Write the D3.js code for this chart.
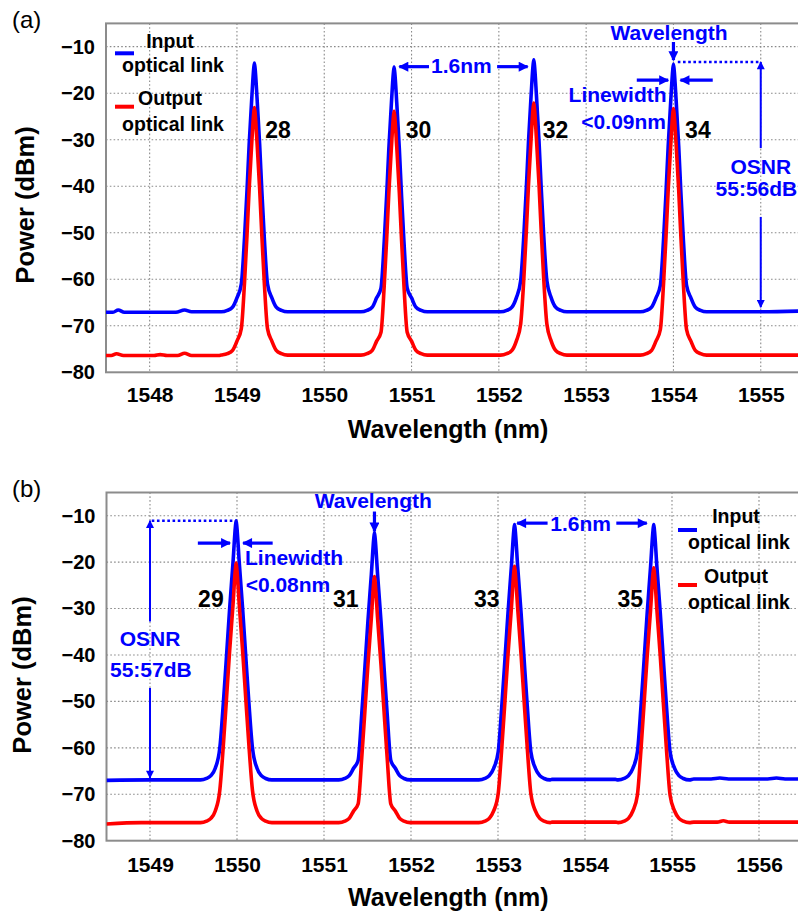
<!DOCTYPE html>
<html>
<head>
<meta charset="utf-8">
<script src="https://cdn.jsdelivr.net/npm/d3@7"></script>
<style>
    body { margin: 0; background: #fff; }
    svg { display: block; }
</style>
</head>
<body>
<svg id="chart" width="798" height="914"></svg>
<script>
(function () {
    'use strict';

    var FONT = '"Liberation Sans", Arial, Helvetica, sans-serif';
    var BLUE = "#0000ff", RED = "#ff0000";

    //  ticks shared by both panels
    var yTicks = [-80, -70, -60, -50, -40, -30, -20, -10];
    var xTicksA = [1548, 1549, 1550, 1551, 1552, 1553, 1554, 1555];
    var xTicksB = [1549, 1550, 1551, 1552, 1553, 1554, 1555, 1556];

    //  panel (a): channels 28..34
    var channelsA = ["28", "30", "32", "34"];
    var centersA = [1549.2, 1550.8, 1552.4, 1554.0];
    var inputPeaksA = [-13.5, -14.4, -12.8, -13.8];
    var outputPeaksA = [-23.1, -23.9, -22.1, -23.3];
    var labelPosA = [1549.47, 1551.08, 1552.65, 1554.28];
    var inputFloorA = [[1547.5, -67.1], [1547.58, -67.1], [1547.64, -66.6], [1547.71, -67.1], [1548.30, -67.1],
        [1548.40, -66.6], [1548.48, -67.0], [1548.79, -67.0], [1549.61, -67.0], [1550.39, -67.0], [1551.21, -67.0],
        [1551.99, -67.0], [1552.81, -67.0], [1553.59, -67.0], [1554.41, -67.0], [1555.0, -67.0], [1555.5, -66.8]];
    var outputFloorA = [[1547.5, -76.4], [1547.56, -76.4], [1547.62, -76.0], [1547.70, -76.4], [1548.05, -76.4],
        [1548.12, -76.2], [1548.2, -76.4], [1548.32, -76.4], [1548.40, -75.9], [1548.48, -76.4], [1548.79, -76.4],
        [1549.61, -76.3], [1550.39, -76.3], [1551.21, -76.3], [1551.99, -76.3], [1552.81, -76.3], [1553.59, -76.3],
        [1554.41, -76.3], [1555.5, -76.3]];
    //  peak skirt: half-width (nm) against dB below the peak
    var skirtOffA = [0, 0.008, 0.030, 0.060, 0.085, 0.113, 0.150];
    var skirtDropA = [0, 1.2, 7.5, 17.5, 27.5, 37.5, 47.5];
    //  foot of the peak: half-width (nm) against dB above the noise floor
    var footOffA = [0.20, 0.25, 0.31, 0.38];
    var footRiseA = [3.0, 1.0, 0.3, 0];

    //  panel (b): channels 29..35
    var channelsB = ["29", "31", "33", "35"];
    var centersB = [1549.99, 1551.58, 1553.19, 1554.79];
    var inputPeaksB = [-11.1, -13.7, -11.9, -11.9];
    var outputPeaksB = [-20.2, -23.1, -20.9, -21.2];
    var labelPosB = [1549.70, 1551.25, 1552.87, 1554.52];
    var inputFloorB = [[1548.5, -67.0], [1549.0, -66.9], [1549.55, -66.9], [1550.42, -66.9], [1551.15, -66.9],
        [1552.01, -66.9], [1552.75, -66.9], [1553.62, -66.8], [1554.35, -66.8], [1555.25, -66.7], [1555.45, -66.7],
        [1555.55, -66.5], [1555.65, -66.7], [1556.1, -66.7], [1556.2, -66.5], [1556.3, -66.7], [1556.5, -66.7]];
    var outputFloorB = [[1548.5, -76.4], [1548.9, -76.1], [1549.55, -76.1], [1550.42, -76.1], [1551.15, -76.1],
        [1552.01, -76.1], [1552.75, -76.1], [1553.62, -76.0], [1554.35, -76.0], [1555.25, -76.0], [1555.52, -76.0],
        [1555.59, -75.7], [1555.66, -76.0], [1556.5, -76.0]];
    var skirtOffB = [0, 0.008, 0.036, 0.075, 0.110, 0.146, 0.188];
    var skirtDropB = [0, 1.2, 9, 19, 29, 39, 49];
    var footOffB = [0.24, 0.29, 0.34, 0.41];
    var footRiseB = [2.5, 0.9, 0.3, 0];

    //  blue annotations, in wavelength / power units
    var arrowsA = [
        { x1: 1551.20, y1: -14.3, x2: 1550.86, y2: -14.3, size: "big" },
        { x1: 1551.98, y1: -14.3, x2: 1552.33, y2: -14.3, size: "big" },
        { x1: 1554.0, y1: -9.0, x2: 1554.0, y2: -12.9, size: "big" },
        { x1: 1553.58, y1: -17.2, x2: 1553.94, y2: -17.2, size: "big" },
        { x1: 1554.45, y1: -17.2, x2: 1554.08, y2: -17.2, size: "big" },
        { x1: 1555.0, y1: -31.8, x2: 1555.0, y2: -13.3, size: "small" },
        { x1: 1555.0, y1: -46.6, x2: 1555.0, y2: -66.0, size: "small" }
    ];
    var dottedA = { x1: 1554.05, x2: 1555.0, y: -13.3 };
    var notesA = [
        { text: "1.6nm", x: 1551.57, y: -14.0 },
        { text: "Wavelength", x: 1553.95, y: -7.0 },
        { text: "Linewidth", x: 1553.36, y: -20.3 },
        { text: "<0.09nm", x: 1553.43, y: -26.1 },
        { text: "OSNR", x: 1555.0, y: -35.7 },
        { text: "55:56dB", x: 1554.95, y: -40.5 }
    ];

    var arrowsB = [
        { x1: 1549.0, y1: -32.8, x2: 1549.0, y2: -11.1, size: "small" },
        { x1: 1549.0, y1: -47.1, x2: 1549.0, y2: -66.5, size: "small" },
        { x1: 1549.55, y1: -15.9, x2: 1549.92, y2: -15.9, size: "big" },
        { x1: 1550.41, y1: -15.9, x2: 1550.07, y2: -15.9, size: "big" },
        { x1: 1551.58, y1: -9.1, x2: 1551.58, y2: -13.4, size: "big" },
        { x1: 1553.57, y1: -11.6, x2: 1553.22, y2: -11.6, size: "big" },
        { x1: 1554.36, y1: -11.6, x2: 1554.71, y2: -11.6, size: "big" }
    ];
    var dottedB = { x1: 1549.02, x2: 1549.95, y: -11.1 };
    var notesB = [
        { text: "OSNR", x: 1549.0, y: -36.5 },
        { text: "55:57dB", x: 1549.01, y: -43.1 },
        { text: "Linewidth", x: 1550.655, y: -19.0 },
        { text: "<0.08nm", x: 1550.586, y: -24.7 },
        { text: "Wavelength", x: 1551.567, y: -6.8 },
        { text: "1.6nm", x: 1553.95, y: -11.7 }
    ];

    var legendLabels = [["Input", "optical link"], ["Output", "optical link"]];

    //  layout of the two panels (pixels)
    var panels = [
        {
            letter: "(a)", top: 23.4, bottom: 372.3, left: 106, right: 804.4, xDomain: [1547.5, 1555.5],
            xTicks: xTicksA, xPad: 14.5, titleY: 438, powerY: 205, powerX: 34, letterY: 28,
            channels: channelsA, centers: centersA, labelPos: labelPosA,
            input: { peaks: inputPeaksA, floor: inputFloorA, level: -67.0 },
            output: { peaks: outputPeaksA, floor: outputFloorA, level: -76.3 },
            skirtOff: skirtOffA, skirtDrop: skirtDropA, footOff: footOffA, footRise: footRiseA,
            arrows: arrowsA, dotted: dottedA, notes: notesA,
            legend: { lineX: 115, x: 170, rows: [48, 72, 105, 131], lines: [53.3, 106.7] }
        },
        {
            letter: "(b)", top: 492.5, bottom: 840.7, left: 106.5, right: 802.5, xDomain: [1548.5, 1556.5],
            xTicks: xTicksB, xPad: 16, titleY: 906, powerY: 675, powerX: 31, letterY: 497,
            channels: channelsB, centers: centersB, labelPos: labelPosB,
            input: { peaks: inputPeaksB, floor: inputFloorB, level: -66.9 },
            output: { peaks: outputPeaksB, floor: outputFloorB, level: -76.1 },
            skirtOff: skirtOffB, skirtDrop: skirtDropB, footOff: footOffB, footRise: footRiseB,
            arrows: arrowsB, dotted: dottedB, notes: notesB,
            legend: { lineX: 678, x: 736, rows: [523, 549, 582.7, 608.5], lines: [530, 585] }
        }
    ];

    var svg = d3.select("#chart");

    //  arrow heads
    var defs = svg.append("defs");
    [["big", 11, 10], ["small", 9, 8]].forEach(function (m) {
        defs.append("marker")
            .attr("id", "head-" + m[0])
            .attr("viewBox", "0 0 10 10")
            .attr("refX", 9).attr("refY", 5)
            .attr("markerUnits", "userSpaceOnUse")
            .attr("markerWidth", m[1]).attr("markerHeight", m[2])
            .attr("orient", "auto")
            .append("path").attr("d", "M0,0 L10,5 L0,10 z").attr("fill", BLUE);
    });

    //  build a trace from the floor samples and the peak outline
    var buildTrace = function (p, s) {
        var pts = s.floor.slice();
        p.centers.forEach(function (c, i) {
            p.skirtOff.forEach(function (o, k) {
                var v = s.peaks[i] - p.skirtDrop[k];
                pts.push([c - o, v]);
                if (o > 0) { pts.push([c + o, v]); }
            });
            p.footOff.forEach(function (o, k) {
                pts.push([c - o, s.level + p.footRise[k]]);
                pts.push([c + o, s.level + p.footRise[k]]);
            });
        });
        return pts.sort(function (a, b) { return a[0] - b[0]; });
    };

    var drawPanel = function (p, idx) {
        var x = d3.scaleLinear().domain(p.xDomain).range([p.left, p.right]);
        var y = d3.scaleLinear().domain([-80, -5]).range([p.bottom, p.top]);
        var g = svg.append("g");

        g.append("clipPath").attr("id", "clip-" + idx)
            .append("rect")
            .attr("x", p.left).attr("y", p.top)
            .attr("width", p.right - p.left).attr("height", p.bottom - p.top);

        //  dotted grid
        g.selectAll(".gx").data(p.xTicks).enter().append("line")
            .attr("x1", function (d) { return x(d); }).attr("x2", function (d) { return x(d); })
            .attr("y1", p.top).attr("y2", p.bottom)
            .attr("stroke", "#8a8a8a").attr("stroke-width", 1.1).attr("stroke-dasharray", "1.6,2.2");
        g.selectAll(".gy").data(yTicks.slice(1)).enter().append("line")
            .attr("x1", p.left).attr("x2", p.right)
            .attr("y1", function (d) { return y(d); }).attr("y2", function (d) { return y(d); })
            .attr("stroke", "#8a8a8a").attr("stroke-width", 1.1).attr("stroke-dasharray", "1.6,2.2");

        //  frame
        g.append("rect")
            .attr("x", p.left).attr("y", p.top)
            .attr("width", p.right - p.left).attr("height", p.bottom - p.top)
            .attr("fill", "none").attr("stroke", "#8c8c8c").attr("stroke-width", 2);

        //  traces
        var line = d3.line()
            .x(function (d) { return x(d[0]); })
            .y(function (d) { return y(d[1]); })
            .curve(d3.curveMonotoneX);
        [[p.input, BLUE], [p.output, RED]].forEach(function (s) {
            g.append("path")
                .datum(buildTrace(p, s[0]))
                .attr("clip-path", "url(#clip-" + idx + ")")
                .attr("d", line)
                .attr("fill", "none")
                .attr("stroke", s[1])
                .attr("stroke-width", 3.6)
                .attr("stroke-linejoin", "round");
        });

        //  axes
        g.append("g")
            .attr("transform", "translate(0," + p.bottom + ")")
            .call(d3.axisBottom(x).tickValues(p.xTicks).tickSize(0).tickPadding(p.xPad).tickFormat(d3.format("d")))
            .attr("font-family", FONT).attr("font-size", 21).attr("font-weight", "bold")
            .call(function (a) { a.select(".domain").remove(); })
            .selectAll("text").attr("fill", "#000");
        g.append("g")
            .attr("transform", "translate(" + p.left + ",0)")
            .call(d3.axisLeft(y).tickValues(yTicks).tickSize(0).tickPadding(11)
                .tickFormat(function (d) { return "\u2212" + Math.abs(d); }))
            .attr("font-family", FONT).attr("font-size", 20).attr("font-weight", "bold")
            .call(function (a) { a.select(".domain").remove(); })
            .selectAll("text").attr("fill", "#000");

        g.append("text")
            .attr("x", (p.left + 790) / 2).attr("y", p.titleY)
            .attr("text-anchor", "middle")
            .attr("font-family", FONT).attr("font-size", 25).attr("font-weight", "bold")
            .text("Wavelength (nm)");
        g.append("text")
            .attr("transform", "translate(" + p.powerX + "," + p.powerY + ") rotate(-90)")
            .attr("text-anchor", "middle")
            .attr("font-family", FONT).attr("font-size", 25.5).attr("font-weight", "bold")
            .text("Power (dBm)");
        g.append("text")
            .attr("x", 12).attr("y", p.letterY)
            .attr("font-family", FONT).attr("font-size", 24)
            .text(p.letter);

        //  channel numbers
        g.selectAll(".ch").data(p.channels).enter().append("text")
            .attr("x", function (d, i) { return x(p.labelPos[i]); })
            .attr("y", y(-27.9))
            .attr("dy", "0.36em")
            .attr("text-anchor", "middle")
            .attr("font-family", FONT).attr("font-size", 23).attr("font-weight", "bold")
            .text(function (d) { return d; });

        //  annotations
        g.append("line")
            .attr("x1", x(p.dotted.x1)).attr("x2", x(p.dotted.x2))
            .attr("y1", y(p.dotted.y)).attr("y2", y(p.dotted.y))
            .attr("stroke", BLUE).attr("stroke-width", 2.4).attr("stroke-dasharray", "2.6,2.6");
        g.selectAll(".arrow").data(p.arrows).enter().append("line")
            .attr("x1", function (d) { return x(d.x1); }).attr("y1", function (d) { return y(d.y1); })
            .attr("x2", function (d) { return x(d.x2); }).attr("y2", function (d) { return y(d.y2); })
            .attr("stroke", BLUE)
            .attr("stroke-width", function (d) { return d.size === "big" ? 3.2 : 2; })
            .attr("marker-end", function (d) { return "url(#head-" + d.size + ")"; });
        g.selectAll(".note").data(p.notes).enter().append("text")
            .attr("x", function (d) { return x(d.x); })
            .attr("y", function (d) { return y(d.y); })
            .attr("dy", "0.36em")
            .attr("text-anchor", "middle")
            .attr("fill", BLUE)
            .attr("font-family", FONT).attr("font-size", 21).attr("font-weight", "bold")
            .text(function (d) { return d.text; });

        //  legend
        var lg = p.legend;
        [BLUE, RED].forEach(function (c, i) {
            g.append("line")
                .attr("x1", lg.lineX).attr("x2", lg.lineX + 19)
                .attr("y1", lg.lines[i]).attr("y2", lg.lines[i])
                .attr("stroke", c).attr("stroke-width", 4);
            legendLabels[i].forEach(function (t, k) {
                g.append("text")
                    .attr("x", lg.x + (k ? 3 : 0)).attr("y", lg.rows[i * 2 + k])
                    .attr("text-anchor", "middle")
                    .attr("font-family", FONT).attr("font-size", 19.5).attr("font-weight", "bold")
                    .text(t);
            });
        });
    };

    panels.forEach(drawPanel);
}());
</script>
</body>
</html>
